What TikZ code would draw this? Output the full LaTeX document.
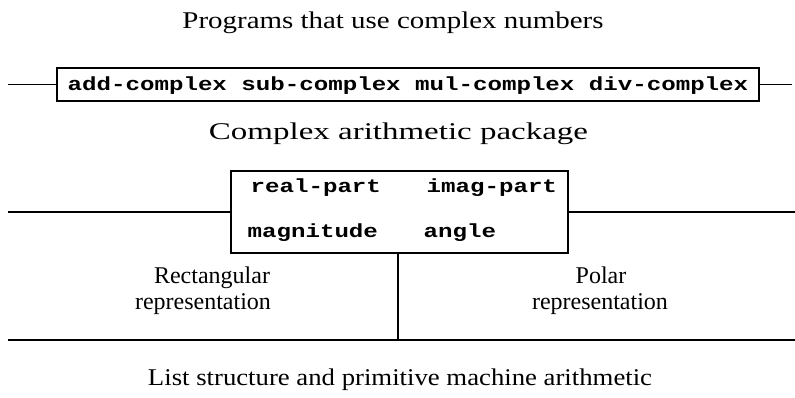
\documentclass[tikz,border=0pt]{standalone}
\usepackage{fontspec}
\usepackage{graphicx}
\setmainfont{Liberation Serif}
\newfontfamily\lblfont{Liberation Serif}
\newfontfamily\codefont[FakeStretch=1.27]{Liberation Mono}
\newcommand{\fitw}[2]{\resizebox{#1}{\height}{#2}}
\begin{document}
\begin{tikzpicture}[x=1pt,y=-1pt,line width=1.3pt,
  lbl/.style={font=\lblfont\fontsize{24}{28}\selectfont, inner sep=0pt, anchor=base},
  code/.style={font=\codefont\bfseries\fontsize{19}{21}\selectfont, inner sep=0pt, anchor=base west},
  boxed/.style={draw, inner sep=0pt}]
\useasboundingbox (0,0) rectangle (795,398);
\node[lbl] (t1) at (393,29) {\fitw{421pt}{Programs that use complex numbers}};
\node[boxed, minimum width=702pt, minimum height=33pt] (b1) at (408,84.5) {};
\node[code, anchor=base] (c1) at (408,91) {add-complex sub-complex mul-complex div-complex};
\coordinate (l1) at (8,84.5);
\coordinate (r1) at (792,84.5);
\draw (l1) -- (b1.west);
\draw (b1.east) -- (r1);
\node[lbl] (t2) at (398.5,140) {\fitw{379pt}{Complex arithmetic package}};
\node[boxed, minimum width=337pt, minimum height=82pt] (b2) at (399.5,212) {};
\node[code] (rp) at (250,193) {real-part};
\node[code] (ip) at (426,193) {imag-part};
\node[code] (mg) at (247,237) {magnitude};
\node[code] (an) at (423,237) {angle};
\coordinate (l2) at (8,212);
\coordinate (r2) at (795,212);
\draw (l2) -- (b2.west);
\draw (b2.east) -- (r2);
\coordinate (bot) at (398,340);
\draw (b2.south -| bot) -- (bot);
\coordinate (l3) at (8,340);
\coordinate (r3) at (795,340);
\draw (l3) -- (r3);
\node[lbl] (rect1) at (212,283) {Rectangular};
\node[lbl] (rect2) at (203,309) {representation};
\node[lbl] (pol1) at (601,283) {Polar};
\node[lbl] (pol2) at (600,309) {representation};
\node[lbl] (t3) at (400,385) {\fitw{504pt}{List structure and primitive machine arithmetic}};
\end{tikzpicture}
\end{document}
